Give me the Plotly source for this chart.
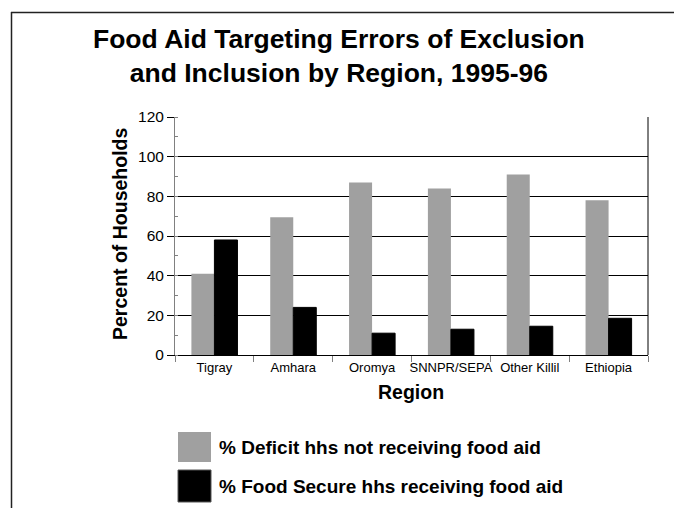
import plotly.graph_objects as go

regions = ["Tigray", "Amhara", "Oromya", "SNNPR/SEPA", "Other Killil", "Ethiopia"]
deficit_not_receiving = [41, 69.5, 87, 84, 91, 78]
secure_receiving = [58, 24, 11, 13, 14.5, 18.5]
series_names = ["% Deficit hhs not receiving food aid", "% Food Secure hhs receiving food aid"]
y_ticks = [0, 20, 40, 60, 80, 100, 120]
title_text = "Food Aid Targeting Errors of Exclusion<br>and Inclusion by Region, 1995-96"

W, H = 677, 508
L, R, T, B = 175, 648, 117, 355
FONT = "Liberation Sans, Arial, sans-serif"
GRAY = "#a0a0a0"


def px(x):
    return (x - L) / (R - L)


def py(y):
    return (B - y) / (B - T)


fig = go.Figure()
fig.add_trace(go.Bar(x=regions, y=deficit_not_receiving, name=series_names[0],
                     marker=dict(color=GRAY, line=dict(color=GRAY, width=0))))
fig.add_trace(go.Bar(x=regions, y=secure_receiving, name=series_names[1],
                     marker=dict(color="black", line=dict(color="black", width=1))))

n = len(regions)
fig.update_layout(
    width=W, height=H,
    margin=dict(l=L, r=W - R, t=T, b=H - B, pad=0),
    paper_bgcolor="white", plot_bgcolor="white",
    barmode="group", bargap=0.416, bargroupgap=0,
    showlegend=False,
    font=dict(family=FONT, color="black"),
    xaxis=dict(type="category", categoryarray=regions, range=[-0.5, n - 0.5],
               showline=True, linecolor="black", linewidth=1,
               ticks="outside", tickson="boundaries", ticklen=6, tickcolor="#808080", tickwidth=1,
               tickangle=0,
               tickfont=dict(family=FONT, size=13, color="black"),
               showgrid=False, zeroline=False),
    xaxis2=dict(type="linear", overlaying="x", anchor="y", side="bottom",
                range=[-0.5, n - 0.5], tickmode="array",
                tickvals=[i - 0.5 for i in range(n + 1)],
                ticks="inside", ticklen=6, tickcolor="#808080", tickwidth=1,
                showticklabels=False, showgrid=False, zeroline=False, showline=False),
    yaxis=dict(range=[0, 120], tickmode="array", tickvals=y_ticks,
               showgrid=True, gridcolor="black", gridwidth=1,
               showline=True, linecolor="#808080", linewidth=1,
               ticks="outside", ticklen=7, tickcolor="black", tickwidth=1,
               tickfont=dict(family=FONT, size=15.5, color="black"),
               minor=dict(dtick=10, ticks="inside", ticklen=3, tickcolor="#808080", showgrid=False),
               zeroline=False),
)

shapes = [
    # right border of plot area
    dict(type="line", xref="x domain", yref="y domain", x0=1, x1=1, y0=0, y1=1,
         line=dict(color="black", width=1)),
    # outer frame (top and left)
    dict(type="line", xref="paper", yref="paper", x0=px(11), x1=px(674), y0=py(12.5), y1=py(12.5),
         line=dict(color="#222222", width=1.5)),
    dict(type="line", xref="paper", yref="paper", x0=px(11.5), x1=px(11.5), y0=py(12), y1=py(H + 2),
         line=dict(color="#222222", width=1.5)),
    # legend swatches
    dict(type="rect", xref="paper", yref="paper", x0=px(178), x1=px(211), y0=py(462), y1=py(432),
         fillcolor=GRAY, line=dict(color=GRAY, width=0)),
    dict(type="rect", xref="paper", yref="paper", x0=px(178), x1=px(211), y0=py(502), y1=py(470),
         fillcolor="black", line=dict(color="#555555", width=1)),
]
fig.update_layout(shapes=shapes)

annotations = [
    dict(text=title_text, xref="paper", yref="paper", x=px(W / 2), y=py(56),
         xanchor="center", yanchor="middle", showarrow=False,
         font=dict(family=FONT, size=26.5, color="black", weight="bold")),
    dict(text="Percent of Households", xref="paper", yref="paper", x=px(120), y=py(234),
         xanchor="center", yanchor="middle", textangle=-90, showarrow=False,
         font=dict(family=FONT, size=19.5, color="black", weight="bold")),
    dict(text="Region", xref="paper", yref="paper", x=px(411), y=py(392),
         xanchor="center", yanchor="middle", showarrow=False,
         font=dict(family=FONT, size=19.5, color="black", weight="bold")),
    dict(text=series_names[0], xref="paper", yref="paper", x=px(217), y=py(447),
         xanchor="left", yanchor="middle", showarrow=False,
         font=dict(family=FONT, size=19, color="black", weight="bold")),
    dict(text=series_names[1], xref="paper", yref="paper", x=px(217), y=py(486),
         xanchor="left", yanchor="middle", showarrow=False,
         font=dict(family=FONT, size=19, color="black", weight="bold")),
]
fig.update_layout(annotations=annotations)

fig.write_html("out.html")
